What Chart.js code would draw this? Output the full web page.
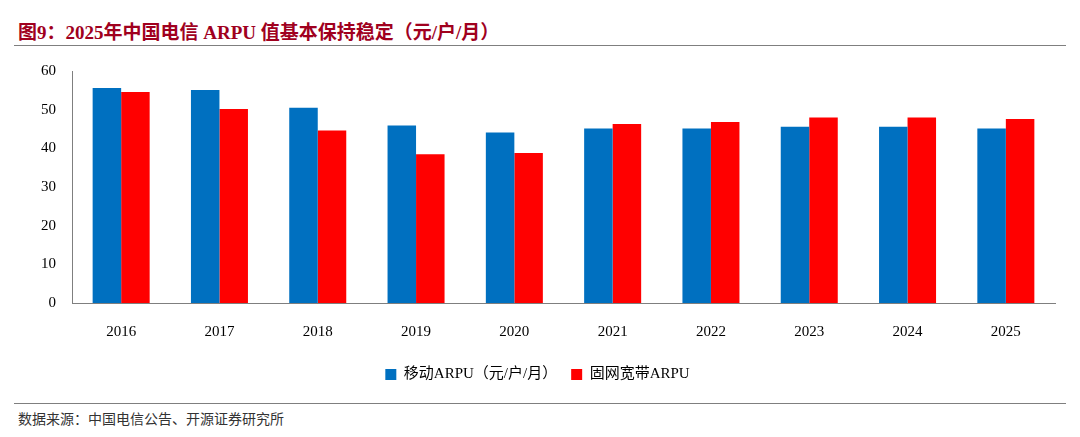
<!DOCTYPE html>
<html><head><meta charset="utf-8">
<script src="https://cdn.jsdelivr.net/npm/chart.js@4"></script>
<style>
body{margin:0;width:1080px;height:437px;background:#fff;font-family:"Liberation Serif","Noto Sans CJK SC",serif;overflow:hidden;position:relative}
#title{position:absolute;left:18px;top:17px;font-size:19px;font-weight:bold;color:#a0001e;font-family:"Liberation Serif","Noto Sans CJK SC",serif}
.rule{position:absolute;left:14px;width:1052px;height:1px;background:#7f7f7f}
#src{position:absolute;left:18px;top:408px;font-size:14px;color:#333;font-family:"Noto Sans CJK SC",sans-serif}
#wrap{position:absolute;left:0;top:54px;width:1080px;height:340px}
</style></head><body>
<div id="title">图9：2025年中国电信 ARPU 值基本保持稳定（元/户/月）</div>
<div class="rule" style="top:45px"></div>
<div id="wrap"><canvas id="c"></canvas></div>
<div class="rule" style="top:403px"></div>
<div id="src">数据来源：中国电信公告、开源证券研究所</div>
<script>
const years = ['2016','2017','2018','2019','2020','2021','2022','2023','2024','2025'];
const mobileArpu = [55.6,55.1,50.5,45.9,44.1,45.1,45.1,45.6,45.6,45.1];
const broadbandArpu = [54.6,50.2,44.6,38.5,38.8,46.3,46.8,48.0,48.0,47.6];
new Chart(document.getElementById('c'), {
  type: 'bar',
  data: { labels: years, datasets: [
    { label: '移动ARPU（元/户/月）', data: mobileArpu, backgroundColor: '#0070c0', categoryPercentage: 0.58, barPercentage: 1 },
    { label: '固网宽带ARPU', data: broadbandArpu, backgroundColor: '#ff0000', categoryPercentage: 0.58, barPercentage: 1 }
  ]},
  options: {
    responsive: true, maintainAspectRatio: false, animation: false,
    layout: { padding: { left: 20, right: 25, top: 6, bottom: 2 } },
    plugins: {
      legend: { position: 'bottom', labels: { boxWidth: 11, boxHeight: 11, padding: 14, color: '#000', font: { size: 15, family: '"Liberation Serif","Noto Sans CJK SC",serif' } } },
      tooltip: { enabled: false }
    },
    scales: {
      x: { grid: { display: false }, border: { color: '#7f7f7f' }, ticks: { color: '#000', padding: 12, font: { size: 15, family: '"Liberation Serif",serif' } } },
      y: { min: 0, max: 60, grid: { display: false }, border: { color: '#7f7f7f' },
        afterFit: a => { a.width = 52; },
        ticks: { stepSize: 10, color: '#000', padding: 8, font: { size: 15, family: '"Liberation Serif",serif' } } }
    }
  }
});
</script></body></html>
